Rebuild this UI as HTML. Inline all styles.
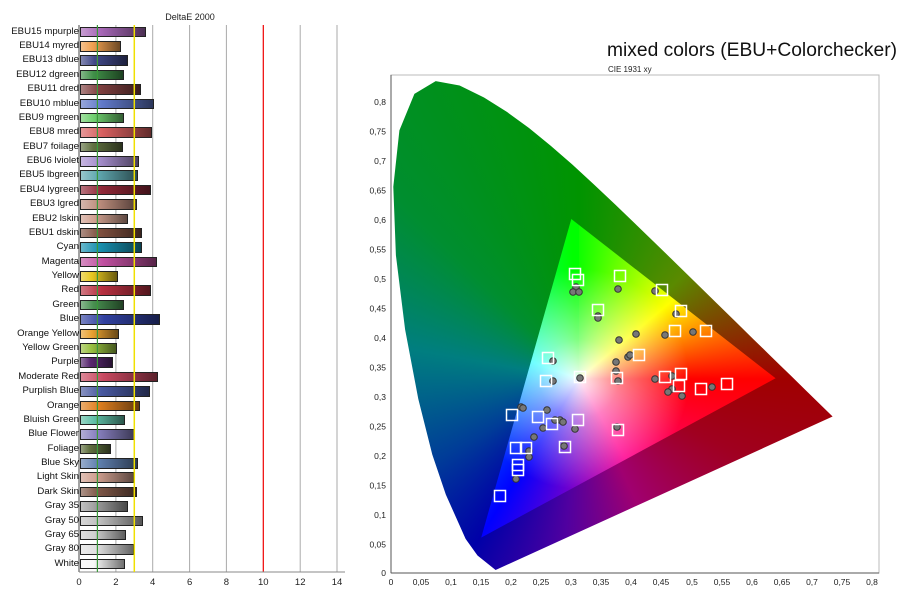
<!DOCTYPE html>
<html><head><meta charset="utf-8">
<style>
body{margin:0;width:900px;height:595px;background:#fff;position:relative;overflow:hidden;font-family:"Liberation Sans",sans-serif}
.r{position:absolute;left:0;width:360px;height:14px}
.r span{position:absolute;right:281px;top:1px;font-size:9.6px;line-height:12px;color:#111;white-space:nowrap}
.r i{position:absolute;left:80px;top:2px;height:10.5px;border:1px solid #222;background:linear-gradient(90deg,rgba(255,255,255,.35),rgba(255,255,255,0) 30%,rgba(0,0,0,.55)),var(--c);box-sizing:border-box}
.abs{position:absolute;left:0;top:0;width:900px;height:595px}
</style></head><body>
<svg class="abs" width="900" height="595" style="z-index:0">
<g stroke="#aaa" stroke-width="1">
<line x1="115.9" y1="25" x2="115.9" y2="572"/><line x1="152.7" y1="25" x2="152.7" y2="572"/><line x1="189.6" y1="25" x2="189.6" y2="572"/><line x1="226.4" y1="25" x2="226.4" y2="572"/><line x1="300.2" y1="25" x2="300.2" y2="572"/><line x1="337" y1="25" x2="337" y2="572"/>
</g>
<line x1="263.3" y1="25" x2="263.3" y2="572" stroke="#e00" stroke-width="1.2"/>
<line x1="79" y1="25" x2="79" y2="572" stroke="#444"/>
<line x1="79" y1="572" x2="345" y2="572" stroke="#888"/>
<text x="190" y="20" font-size="9" text-anchor="middle" fill="#222">DeltaE 2000</text>
<g font-size="9.5" text-anchor="middle" fill="#222">
<text x="79" y="585">0</text><text x="115.9" y="585">2</text><text x="152.7" y="585">4</text><text x="189.6" y="585">6</text><text x="226.4" y="585">8</text><text x="263.3" y="585">10</text><text x="300.2" y="585">12</text><text x="337" y="585">14</text>
</g>
</svg>
<div class="r" style="top:24.6px"><span>EBU15 mpurple</span><i style="width:66px;--c:#a868b8"></i></div>
<div class="r" style="top:39.0px"><span>EBU14 myred</span><i style="width:41px;--c:#f0a050"></i></div>
<div class="r" style="top:53.4px"><span>EBU13 dblue</span><i style="width:48px;--c:#404888"></i></div>
<div class="r" style="top:67.7px"><span>EBU12 dgreen</span><i style="width:44px;--c:#409048"></i></div>
<div class="r" style="top:82.1px"><span>EBU11 dred</span><i style="width:61px;--c:#804040"></i></div>
<div class="r" style="top:96.5px"><span>EBU10 mblue</span><i style="width:74px;--c:#6078c8"></i></div>
<div class="r" style="top:110.9px"><span>EBU9 mgreen</span><i style="width:44px;--c:#70d070"></i></div>
<div class="r" style="top:125.3px"><span>EBU8 mred</span><i style="width:72px;--c:#d86060"></i></div>
<div class="r" style="top:139.6px"><span>EBU7 foilage</span><i style="width:43px;--c:#607040"></i></div>
<div class="r" style="top:154.0px"><span>EBU6 lviolet</span><i style="width:59px;--c:#a890d0"></i></div>
<div class="r" style="top:168.4px"><span>EBU5 lbgreen</span><i style="width:58px;--c:#60a8b0"></i></div>
<div class="r" style="top:182.8px"><span>EBU4 lygreen</span><i style="width:71px;--c:#902838"></i></div>
<div class="r" style="top:197.2px"><span>EBU3 lgred</span><i style="width:57px;--c:#c09080"></i></div>
<div class="r" style="top:211.5px"><span>EBU2 lskin</span><i style="width:48px;--c:#d0a090"></i></div>
<div class="r" style="top:225.9px"><span>EBU1 dskin</span><i style="width:62px;--c:#805040"></i></div>
<div class="r" style="top:240.3px"><span>Cyan</span><i style="width:62px;--c:#1890b0"></i></div>
<div class="r" style="top:254.7px"><span>Magenta</span><i style="width:77px;--c:#c050a0"></i></div>
<div class="r" style="top:269.1px"><span>Yellow</span><i style="width:38px;--c:#e8c820"></i></div>
<div class="r" style="top:283.4px"><span>Red</span><i style="width:71px;--c:#b83040"></i></div>
<div class="r" style="top:297.8px"><span>Green</span><i style="width:44px;--c:#489050"></i></div>
<div class="r" style="top:312.2px"><span>Blue</span><i style="width:80px;--c:#3040a0"></i></div>
<div class="r" style="top:326.6px"><span>Orange Yellow</span><i style="width:39px;--c:#e8a030"></i></div>
<div class="r" style="top:341.0px"><span>Yellow Green</span><i style="width:37px;--c:#98c040"></i></div>
<div class="r" style="top:355.3px"><span>Purple</span><i style="width:33px;--c:#582870"></i></div>
<div class="r" style="top:369.7px"><span>Moderate Red</span><i style="width:78px;--c:#c84860"></i></div>
<div class="r" style="top:384.1px"><span>Purplish Blue</span><i style="width:70px;--c:#4858a0"></i></div>
<div class="r" style="top:398.5px"><span>Orange</span><i style="width:60px;--c:#e08020"></i></div>
<div class="r" style="top:412.9px"><span>Bluish Green</span><i style="width:45px;--c:#60c0a8"></i></div>
<div class="r" style="top:427.2px"><span>Blue Flower</span><i style="width:55px;--c:#8880c0"></i></div>
<div class="r" style="top:441.6px"><span>Foliage</span><i style="width:31px;--c:#607040"></i></div>
<div class="r" style="top:456.0px"><span>Blue Sky</span><i style="width:58px;--c:#6080b0"></i></div>
<div class="r" style="top:470.4px"><span>Light Skin</span><i style="width:54px;--c:#d0a090"></i></div>
<div class="r" style="top:484.8px"><span>Dark Skin</span><i style="width:57px;--c:#805848"></i></div>
<div class="r" style="top:499.1px"><span>Gray 35</span><i style="width:48px;--c:#a0a0a0"></i></div>
<div class="r" style="top:513.5px"><span>Gray 50</span><i style="width:63px;--c:#c0c0c0"></i></div>
<div class="r" style="top:527.9px"><span>Gray 65</span><i style="width:46px;--c:#d0d0d0"></i></div>
<div class="r" style="top:542.3px"><span>Gray 80</span><i style="width:54px;--c:#e0e0e0"></i></div>
<div class="r" style="top:556.7px"><span>White</span><i style="width:45px;--c:#f8f8f8"></i></div>
<svg class="abs" width="900" height="595" style="z-index:2;pointer-events:none">
<line x1="97.4" y1="25" x2="97.4" y2="572" stroke="#3a9a3a" stroke-width="1.2"/>
<line x1="134.3" y1="25" x2="134.3" y2="572" stroke="#f0e000" stroke-width="1.5"/>
</svg>

<div class="abs" style="z-index:1;background:conic-gradient(from 0deg at 579px 379px,#009400 0deg,#5a8a00 45deg,#a00000 90deg,#a00020 115deg,#a00070 155deg,#5000a0 185deg,#0000a8 212deg,#003c98 240deg,#007e80 280deg,#008e30 315deg,#009400 360deg);clip-path:polygon(495.6px 570px,477.5px 555.5px,465.6px 538.9px,445.9px 494.7px,432.3px 454.6px,418.3px 399px,405.1px 329.5px,395.9px 255.3px,393.3px 186.7px,399.4px 130.4px,414.4px 93.9px,435.7px 81.1px,459.6px 85.5px,484px 97.5px,506.9px 111.9px,529px 128px,550.7px 145.7px,572.3px 164.5px,593.7px 184.2px,615.2px 204.5px,636.6px 225.1px,657.9px 245.7px,678.8px 266.1px,699px 285.9px,718.4px 304.9px,736.7px 322.7px,753.3px 339.1px,767.8px 353.2px,780.6px 365.7px,791.1px 375.9px,806.6px 391.1px,832.6px 416.5px)"></div>
<div class="abs" style="z-index:1;background:radial-gradient(circle at 579px 379px,rgba(255,255,255,.95) 0px,rgba(255,255,255,.5) 40px,rgba(255,255,255,0) 110px),conic-gradient(from 0deg at 579px 379px,#00ff00 -3deg,#ffff00 50deg,#ff0000 90deg,#ff0090 150deg,#0000ff 212deg,#00ffff 290deg,#00ff00 357deg);clip-path:polygon(775.6px 378.3px,571.3px 219px,481.2px 537.6px)"></div>

<svg class="abs" width="900" height="595" style="z-index:3">
<rect x="391" y="75" width="488" height="498" fill="none" stroke="#bbb"/>
<line x1="391" y1="75" x2="391" y2="573" stroke="#555"/>
<line x1="391" y1="573" x2="879" y2="573" stroke="#555"/>
<text x="607" y="56" font-size="19" fill="#111" textLength="290" lengthAdjust="spacingAndGlyphs">mixed colors (EBU+Colorchecker)</text>
<text x="608" y="72" font-size="8" fill="#222">CIE 1931 xy</text>
<g font-size="8.5" fill="#222" text-anchor="end">
<text x="386" y="576">0</text><text x="386" y="547.5">0,05</text><text x="386" y="518">0,1</text><text x="386" y="488.5">0,15</text><text x="386" y="459">0,2</text><text x="386" y="429.5">0,25</text><text x="386" y="400">0,3</text><text x="386" y="370.5">0,35</text><text x="386" y="341">0,4</text><text x="386" y="311.5">0,45</text><text x="386" y="282">0,5</text><text x="386" y="252.5">0,55</text><text x="386" y="223">0,6</text><text x="386" y="193.5">0,65</text><text x="386" y="164">0,7</text><text x="386" y="134.5">0,75</text><text x="386" y="105">0,8</text>
</g>
<g font-size="8.5" fill="#222" text-anchor="middle">
<text x="391" y="585">0</text><text x="421" y="585">0,05</text><text x="451" y="585">0,1</text><text x="481" y="585">0,15</text><text x="511" y="585">0,2</text><text x="541" y="585">0,25</text><text x="571" y="585">0,3</text><text x="601" y="585">0,35</text><text x="631" y="585">0,4</text><text x="661" y="585">0,45</text><text x="692" y="585">0,5</text><text x="722" y="585">0,55</text><text x="752" y="585">0,6</text><text x="782" y="585">0,65</text><text x="812" y="585">0,7</text><text x="842" y="585">0,75</text><text x="872" y="585">0,8</text>
</g>
<g fill="#777" stroke="#333" stroke-width="1">
<circle cx="576" cy="287" r="3.3"/><circle cx="573" cy="292" r="3.3"/><circle cx="579" cy="292" r="3.3"/><circle cx="598" cy="316" r="3.3"/><circle cx="598" cy="318" r="3.3"/><circle cx="553" cy="361" r="3.3"/><circle cx="553" cy="381" r="3.3"/><circle cx="580" cy="378" r="3.3"/><circle cx="616" cy="371" r="3.3"/><circle cx="616" cy="362" r="3.3"/><circle cx="628" cy="357" r="3.3"/><circle cx="630" cy="355" r="3.3"/><circle cx="618" cy="381" r="3.3"/><circle cx="655" cy="379" r="3.3"/><circle cx="672" cy="376" r="3.3"/><circle cx="672" cy="389" r="3.3"/><circle cx="668" cy="392" r="3.3"/><circle cx="682" cy="396" r="3.3"/><circle cx="655" cy="291" r="3.3"/><circle cx="676" cy="314" r="3.3"/><circle cx="693" cy="332" r="3.3"/><circle cx="665" cy="335" r="3.3"/><circle cx="636" cy="334" r="3.3"/><circle cx="618" cy="289" r="3.3"/><circle cx="521" cy="407" r="3.3"/><circle cx="547" cy="410" r="3.3"/><circle cx="560" cy="420" r="3.3"/><circle cx="555" cy="420" r="3.3"/><circle cx="534" cy="437" r="3.3"/><circle cx="529" cy="451" r="3.3"/><circle cx="529" cy="457" r="3.3"/><circle cx="543" cy="428" r="3.3"/><circle cx="563" cy="422" r="3.3"/><circle cx="575" cy="429" r="3.3"/><circle cx="617" cy="427" r="3.3"/><circle cx="564" cy="446" r="3.3"/><circle cx="516" cy="479" r="3.3"/><circle cx="523" cy="408" r="3.3"/><circle cx="619" cy="340" r="3.3"/><circle cx="712" cy="387" r="3.3"/>
</g>
<g fill="none" stroke="#fff" stroke-width="1.5">
<rect x="569.5" y="268.5" width="11" height="11"/><rect x="572.5" y="274.5" width="11" height="11"/><rect x="614.5" y="270.5" width="11" height="11"/><rect x="592.5" y="304.5" width="11" height="11"/><rect x="542.5" y="352.5" width="11" height="11"/><rect x="540.5" y="375.5" width="11" height="11"/><rect x="574.5" y="371.5" width="11" height="11"/><rect x="611.5" y="372.5" width="11" height="11"/><rect x="506.5" y="409.5" width="11" height="11"/><rect x="532.5" y="411.5" width="11" height="11"/><rect x="546.5" y="418.5" width="11" height="11"/><rect x="572.5" y="414.5" width="11" height="11"/><rect x="510.5" y="442.5" width="11" height="11"/><rect x="520.5" y="442.5" width="11" height="11"/><rect x="559.5" y="441.5" width="11" height="11"/><rect x="612.5" y="424.5" width="11" height="11"/><rect x="494.5" y="490.5" width="11" height="11"/><rect x="512.5" y="459.5" width="11" height="11"/><rect x="512.5" y="464.5" width="11" height="11"/><rect x="656.5" y="284.5" width="11" height="11"/><rect x="675.5" y="305.5" width="11" height="11"/><rect x="669.5" y="325.5" width="11" height="11"/><rect x="700.5" y="325.5" width="11" height="11"/><rect x="633.5" y="349.5" width="11" height="11"/><rect x="659.5" y="371.5" width="11" height="11"/><rect x="675.5" y="368.5" width="11" height="11"/><rect x="721.5" y="378.5" width="11" height="11"/><rect x="695.5" y="383.5" width="11" height="11"/><rect x="673.5" y="380.5" width="11" height="11"/>
</g>
</svg>
</body></html>
